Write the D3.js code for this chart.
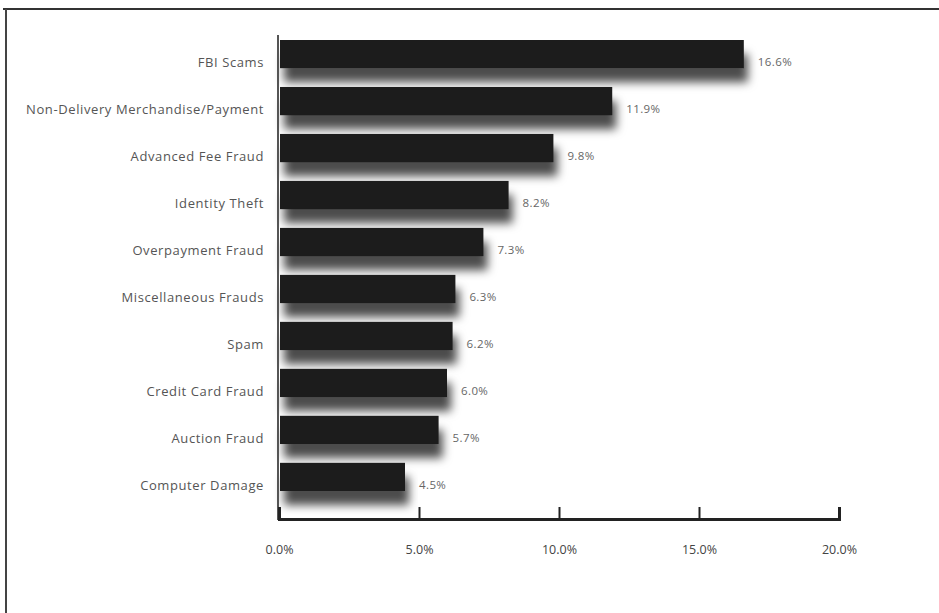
<!DOCTYPE html>
<html>
<head>
<meta charset="utf-8">
<script src="https://cdn.jsdelivr.net/npm/d3@7"></script>
<style>
  body { margin: 0; background: #fff; }
  svg { display: block; }
  text { font-family: "Open Sans", "Noto Sans", sans-serif; }
</style>
</head>
<body>
<div id="chart"></div>
<script>
// data
var categories = ["FBI Scams", "Non-Delivery Merchandise/Payment", "Advanced Fee Fraud",
                  "Identity Theft", "Overpayment Fraud", "Miscellaneous Frauds", "Spam",
                  "Credit Card Fraud", "Auction Fraud", "Computer Damage"];
var shares = [16.6, 11.9, 9.8, 8.2, 7.3, 6.3, 6.2, 6.0, 5.7, 4.5];
var valueLabels = ["16.6%", "11.9%", "9.8%", "8.2%", "7.3%", "6.3%", "6.2%", "6.0%", "5.7%", "4.5%"];
var xTicks = [0, 5, 10, 15, 20];

var width = 939, height = 613;

var svg = d3.select("#chart")
  .append("svg")
    .attr("width", width)
    .attr("height", height);

// blurry drop shadow like the scanned original
var defs = svg.append("defs");
var f = defs.append("filter").attr("id", "shadow")
    .attr("x", "-5%").attr("y", "-40%").attr("width", "115%").attr("height", "250%");
f.append("feDropShadow")
    .attr("dx", 4).attr("dy", 14)
    .attr("stdDeviation", 5)
    .attr("flood-color", "#000")
    .attr("flood-opacity", 0.7);

// frame (top and left edge only, as in the scan)
svg.append("line").attr("x1", 3).attr("x2", width).attr("y1", 9).attr("y2", 9)
  .attr("stroke", "#333").attr("stroke-width", 2);
svg.append("line").attr("x1", 6).attr("x2", 6).attr("y1", 9).attr("y2", height)
  .attr("stroke", "#444").attr("stroke-width", 2);

var x = d3.scaleLinear()
  .domain([0, 20])
  .range([279, 839]);

var y = d3.scaleBand()
  .domain(categories)
  .range([40, 491])
  .paddingInner(0.4)
  .paddingOuter(0);

// bars
svg.append("g")
  .selectAll("rect")
  .data(shares)
  .enter()
  .append("rect")
    .attr("x", x(0) + 1)
    .attr("y", function(d, i) { return y(categories[i]); })
    .attr("width", function(d) { return x(d) - x(0) - 1; })
    .attr("height", y.bandwidth())
    .attr("fill", "#1b1b1b")
    .attr("filter", "url(#shadow)");

// category labels
svg.append("g")
  .selectAll("text")
  .data(categories)
  .enter()
  .append("text")
    .attr("x", 264)
    .attr("y", function(d) { return y(d) + 24; })
    .attr("text-anchor", "end")
    .attr("dominant-baseline", "middle")
    .attr("font-size", 13)
    .attr("letter-spacing", 0.6)
    .attr("fill", "#555")
    .text(function(d) { return d; });

// value labels
svg.append("g")
  .selectAll("text")
  .data(shares)
  .enter()
  .append("text")
    .attr("x", function(d) { return x(d) + 14; })
    .attr("y", function(d, i) { return y(categories[i]) + 23; })
    .attr("dominant-baseline", "middle")
    .attr("font-size", 11.5)
    .attr("letter-spacing", 0.4)
    .attr("fill", "#666")
    .text(function(d, i) { return valueLabels[i]; });

// vertical axis line
svg.append("line")
  .attr("x1", x(0) - 1).attr("x2", x(0) - 1)
  .attr("y1", 35).attr("y2", 520)
  .attr("stroke", "#555").attr("stroke-width", 2);

// bottom axis, ticks pointing up
var xAxis = d3.axisBottom(x)
  .tickValues(xTicks)
  .tickSize(-12)
  .tickPadding(26)
  .tickFormat(function(d) { return d.toFixed(1) + "%"; });

var gx = svg.append("g")
  .attr("transform", "translate(0,519)")
  .call(xAxis);
gx.select(".domain").attr("stroke", "#222").attr("stroke-width", 3);
gx.selectAll(".tick line").attr("stroke", "#222").attr("stroke-width", 2);
gx.selectAll(".tick text")
  .attr("font-size", 12.5)
  .attr("fill", "#444")
  .style("font-family", "'Open Sans', sans-serif");
</script>
</body>
</html>
